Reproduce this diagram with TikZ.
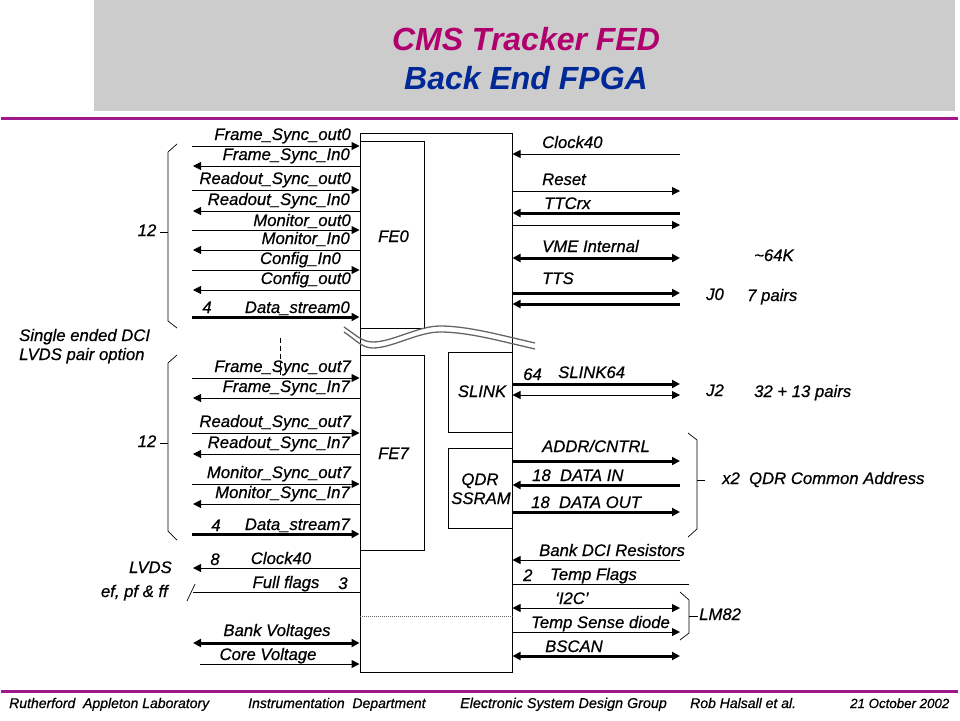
\documentclass[tikz,border=0pt]{standalone}
\usepackage{fontspec}
\setmainfont{Liberation Sans}
\newfontfamily\labfam{Liberation Sans}[FakeBold=0.6]
\usetikzlibrary{arrows.meta}
\definecolor{hdr}{RGB}{204,204,204}
\definecolor{rule}{RGB}{160,25,140}
\definecolor{ttlA}{RGB}{176,0,110}
\definecolor{ttlB}{RGB}{0,40,150}
\tikzset{
 x=1pt,y=-1pt,
 box/.style={draw=black,line width=1pt,fill=white,inner sep=0pt},
 lab/.style={font=\labfam\fontsize{16.7}{19}\selectfont\itshape,inner sep=0,text height=12pt,text depth=0pt,text=black},
 labR/.style={lab,anchor=east},
 labL/.style={lab,anchor=west},
 lbl/.style={lab,anchor=center},
 foot/.style={font=\labfam\fontsize{14}{16}\selectfont\itshape,inner sep=0,anchor=west,text height=10pt,text depth=0pt,text=black},
 thin sig/.style={line width=1pt},
 thick sig/.style={line width=3pt},
 tipR/.style={-{Triangle[length=8pt,width=8pt]}},
 tipL/.style={{Triangle[length=8pt,width=8pt]}-},
 tipB/.style={{Triangle[length=8pt,width=8pt]}-{Triangle[length=8pt,width=8pt]}},
 ttl/.style={font=\fontsize{32}{36}\selectfont\bfseries\itshape,inner sep=0},
 wave/.style={line width=1.3pt,black!60},
 hair/.style={line width=.7pt},
}
\newcommand{\sigL}[4]{\coordinate (#1f) at (#4,#2);\coordinate (#1b) at (fpga.west |- #1f);\draw[#3] (#1f) -- (#1b);}
\newcommand{\sigR}[4]{\coordinate (#1f) at (#4,#2);\coordinate (#1b) at (fpga.east |- #1f);\draw[#3] (#1b) -- (#1f);}
\begin{document}
\begin{tikzpicture}
\useasboundingbox (0,0) rectangle (960,720);
\fill[white] (0,0) rectangle (960,720);
\fill[hdr] (94,0) rectangle (955,111);
\fill[rule] (1,116.5) rectangle (958,119.5);
\fill[rule] (1,689.5) rectangle (958,692.5);
\node[ttl,text=ttlA] (t1) at (526,39) {CMS Tracker FED};
\node[ttl,text=ttlB] (t2) at (526,78) {Back End FPGA};

% boxes
\node[box,minimum width=152pt,minimum height=539pt] (fpga) at (436,402.5) {};
\node[box,minimum width=64pt,minimum height=187pt] (fe0) at (392,234.5) {};
\node[box,minimum width=64pt,minimum height=195pt] (fe7) at (392,452.5) {};
\node[box,minimum width=64pt,minimum height=80pt] (slink) at (480,392) {};
\node[box,minimum width=64pt,minimum height=80pt] (qdr) at (480,488) {};
\node[lbl] (lfe0) at (393.5,236) {FE0};
\node[lbl] (lfe7) at (393.5,453) {FE7};
\node[lbl] (lsl) at (482,391) {SLINK};
\node[lbl] (lqdr) at (480,479) {QDR};
\node[lbl] (lsr) at (481,498) {SSRAM};

% break
\draw[wave] (344,327) .. controls (356,335) and (362,342) .. (373,342) .. controls (392,342) and (418,326) .. (440,326) .. controls (468,326) and (500,335) .. (535,343);
\draw[wave] (344,332) .. controls (356,340) and (362,348) .. (373,348) .. controls (392,348) and (418,332) .. (440,332) .. controls (468,332) and (500,341) .. (535,349);

% left signals
\sigL{a}{146}{thin sig,tipR}{192}
\sigL{b}{166}{thin sig,tipL}{193}
\sigL{c}{190}{thin sig,tipR}{192}
\sigL{d}{211}{thin sig,tipL}{193}
\sigL{e}{230}{thin sig,tipR}{192}
\sigL{f}{250}{thin sig,tipL}{193}
\sigL{g}{270}{thin sig,tipR}{192}
\sigL{h}{290}{thin sig,tipL}{193}
\sigL{i}{317}{thick sig,tipR}{192}
\sigL{j}{378}{thin sig,tipR}{192}
\sigL{k}{398}{thin sig,tipL}{193}
\sigL{l}{433}{thin sig,tipR}{192}
\sigL{m}{454}{thin sig,tipL}{193}
\sigL{n}{484}{thin sig,tipR}{192}
\sigL{o}{504}{thin sig,tipL}{193}
\sigL{p}{534}{thick sig,tipR}{192}
\sigL{q}{568}{thin sig,tipL}{193}
\sigL{r}{592}{thin sig}{193}
\sigL{s}{643}{thick sig,tipB}{193}
\sigL{t}{664}{thin sig,tipR}{200}
\coordinate (sl1) at (187,601); \coordinate (sl2) at (195,584);
\draw[hair] (sl1) -- (sl2);
\coordinate (da) at (280.5,338); \coordinate (db) at (280.5,378);
\draw[hair,dash pattern=on 5pt off 3pt] (da) -- (db);

\node[labR] at (351,134) {Frame\_Sync\_out0};
\node[labR] at (350,154) {Frame\_Sync\_In0};
\node[labR] at (351,178) {Readout\_Sync\_out0};
\node[labR] at (350,199) {Readout\_Sync\_In0};
\node[labR] at (351,220) {Monitor\_out0};
\node[labR] at (350,238) {Monitor\_In0};
\node[labR] at (341,258) {Config\_In0};
\node[labR] at (351,278) {Config\_out0};
\node[labR] at (350,307) {Data\_stream0};
\node[lbl] at (207,307) {4};
\node[labR] at (351,366) {Frame\_Sync\_out7};
\node[labR] at (350,386) {Frame\_Sync\_In7};
\node[labR] at (351,421) {Readout\_Sync\_out7};
\node[labR] at (350,442) {Readout\_Sync\_In7};
\node[labR] at (351,472) {Monitor\_Sync\_out7};
\node[labR] at (350,492) {Monitor\_Sync\_In7};
\node[labR] at (350,524) {Data\_stream7};
\node[lbl] at (216,525) {4};
\node[lbl] at (215,559) {8};
\node[lbl] at (281,558) {Clock40};
\node[lbl] at (286,582) {Full flags};
\node[lbl] at (343,583) {3};
\node[lbl] at (277,630) {Bank Voltages};
\node[lbl] at (268,654) {Core Voltage};
\node[labR] at (172,567) {LVDS};
\node[labR] at (168,591) {ef, pf \& ff};
\node[labL] at (19,335) {Single ended DCI};
\node[labL] at (19,354) {LVDS pair option};

% left braces
\coordinate (ba) at (177,144);\coordinate (bb) at (168,152);\coordinate (bc) at (168,321);\coordinate (bd) at (177,328);
\draw[hair] (ba) -- (bb) -- (bc) -- (bd);
\coordinate (be) at (160,232);\coordinate (bf) at (168,232);
\draw[hair] (be) -- (bf);
\node[lbl] at (147,230) {12};
\coordinate (ca) at (177,355);\coordinate (cb) at (168,363);\coordinate (cc) at (168,531);\coordinate (cd) at (177,540);
\draw[hair] (ca) -- (cb) -- (cc) -- (cd);
\coordinate (ce) at (160,443);\coordinate (cf) at (168,443);
\draw[hair] (ce) -- (cf);
\node[lbl] at (147,441) {12};

% dotted
\coordinate (dt1) at (fpga.west |- 0,616);\coordinate (dt2) at (fpga.east |- 0,616);
\draw[line width=.5pt,black!60,dash pattern=on .7pt off 1.3pt] (dt1) -- (dt2);

% right signals
\sigR{ra}{154}{thin sig,tipL}{680}
\sigR{rb}{191}{thin sig,tipR}{680}
\sigR{rc}{213}{thick sig,tipL}{680}
\sigR{rd}{225}{thin sig,tipR}{680}
\sigR{re}{258}{thick sig,tipB}{680}
\sigR{rf}{293}{thick sig,tipR}{680}
\sigR{rg}{304}{thick sig,tipL}{680}
\sigR{rh}{384}{thick sig,tipR}{680}
\sigR{ri}{395}{thin sig,tipB}{680}
\sigR{rj}{461}{thick sig,tipR}{680}
\sigR{rk}{485}{thick sig,tipL}{680}
\sigR{rl}{512}{thick sig,tipR}{680}
\sigR{rm}{560}{thin sig,tipL}{680}
\sigR{rn}{584}{thin sig}{689}
\sigR{ro}{608}{thin sig,tipB}{680}
\sigR{rp}{632}{thin sig,tipR}{680}
\sigR{rq}{656}{thick sig,tipB}{680}

\node[labL] at (542,142) {Clock40};
\node[labL] at (542,179) {Reset};
\node[labL] at (544,203) {TTCrx};
\node[labL] at (542,246) {VME Internal};
\node[labL] at (542,278) {TTS};
\node[labL] at (523,374) {64};
\node[labL] at (558,372) {SLINK64};
\node[labL] at (706,294) {J0};
\node[labL] at (747,295) {7 pairs};
\node[labL] at (754,255) {\char"007E 64K};
\node[labL] at (706,390) {J2};
\node[labL] at (754,391) {32 + 13 pairs};
\node[labL] at (542,446) {ADDR/CNTRL};
\node[labL] at (532,475) {18\ \ DATA IN};
\node[labL] at (531,502) {18\ \ DATA OUT};
\node[labL] at (722,478) {x2\ \ QDR Common Address};
\node[labL] at (539,550) {Bank DCI Resistors};
\node[labL] at (523,575) {2};
\node[labL] at (550,574) {Temp\ Flags};
\node[labL] at (555,598) {‘I2C’};
\node[labL] at (531,622) {Temp Sense diode};
\node[labL] at (545,646) {BSCAN};
\node[labL] at (699,614) {LM82};

% right braces
\coordinate (qa) at (688,433);\coordinate (qb) at (697,440);\coordinate (qc) at (697,529);\coordinate (qd) at (688,537);
\draw[hair] (qa) -- (qb) -- (qc) -- (qd);
\coordinate (qe) at (697,480);\coordinate (qf) at (705,480);
\draw[hair] (qe) -- (qf);
\coordinate (la) at (680,592);\coordinate (lb) at (689,600);\coordinate (lc) at (689,633);\coordinate (ld) at (680,640);
\draw[hair] (la) -- (lb) -- (lc) -- (ld);
\coordinate (le) at (689,616);\coordinate (lf) at (698,616);
\draw[hair] (le) -- (lf);

% footer
\node[foot] at (9,703) {Rutherford\ \ Appleton Laboratory};
\node[foot] at (248,703) {Instrumentation\ \ Department};
\node[foot] at (460,703) {\fontsize{14.3}{16}\selectfont Electronic System Design Group};
\node[foot] at (690,703) {Rob Halsall et al.};
\node[foot] at (850,703) {\fontsize{13.3}{16}\selectfont 21 October 2002};
\end{tikzpicture}
\end{document}
